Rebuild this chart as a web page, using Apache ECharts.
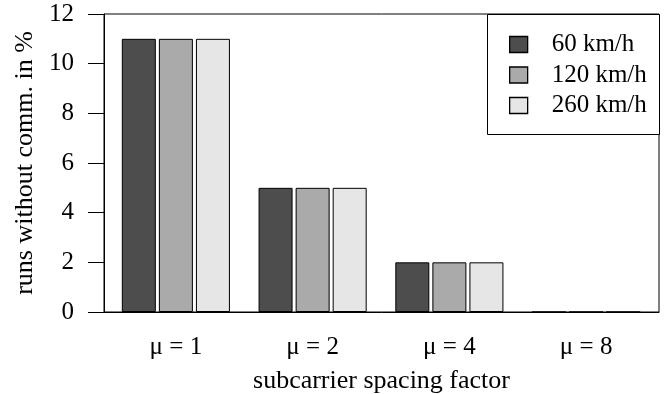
<!DOCTYPE html>
<html><head><meta charset="utf-8">
<script src="https://cdn.jsdelivr.net/npm/echarts@6/dist/echarts.min.js"></script>
<style>html,body{margin:0;padding:0;background:#fff}#c{width:664px;height:394px}</style>
</head><body><div id="c"></div>
<script>
var categories = ['μ = 1', 'μ = 2', 'μ = 4', 'μ = 8'];
var seriesNames = ['60 km/h', '120 km/h', '260 km/h'];
var v60 = [11, 5, 2, 0];
var v120 = [11, 5, 2, 0];
var v260 = [11, 5, 2, 0];
var yTicks = [0, 2, 4, 6, 8, 10, 12];
var colors = ['#4d4d4d', '#aaaaaa', '#e6e6e6'];
var FONT = 'Liberation Serif';
var FS = 25, FT = 26;
var chart = echarts.init(document.getElementById('c'));
var data = [v60, v120, v260];
var yMin = yTicks[0], yMax = yTicks[yTicks.length - 1];
chart.setOption({
  animation: false,
  textStyle: {fontFamily: FONT, color: '#000'},
  grid: [
    {left: 104, right: 5, top: 14, bottom: 82, show: true, borderColor: '#000', borderWidth: 1, outerBoundsMode: 'none', containLabel: false},
    {left: 107.5, right: 9.5, top: 14, bottom: 82, outerBoundsMode: 'none', containLabel: false}
  ],
  legend: {
    orient: 'vertical', left: 509, top: 32, padding: 0, itemWidth: 18, itemHeight: 16, itemGap: 5.5,
    icon: 'rect', textStyle: {fontFamily: FONT, fontSize: FS, color: '#000', padding: [0, 0, 0, 19]},
    itemStyle: {borderColor: '#000', borderWidth: 1.3},
    data: seriesNames
  },
  graphic: [{type: 'rect', left: 487, top: 14, shape: {width: 172, height: 120}, style: {fill: '#fff', stroke: '#000', lineWidth: 1}, z: 0}],
  xAxis: [{
    gridIndex: 0, type: 'category', data: categories,
    name: 'subcarrier spacing factor', nameLocation: 'middle', nameGap: 56,
    nameTextStyle: {fontFamily: FONT, fontSize: FT, color: '#000'},
    axisLine: {lineStyle: {color: '#000', width: 1}},
    axisTick: {show: false},
    axisLabel: {show: false}
  }, {
    gridIndex: 1, type: 'category', data: categories,
    axisLine: {show: false},
    axisTick: {show: false},
    axisLabel: {fontFamily: FONT, fontSize: FS, color: '#000', margin: 23}
  }],
  yAxis: [{
    gridIndex: 0, type: 'value', min: yMin, max: yMax, interval: 2,
    name: 'runs without comm. in %', nameLocation: 'middle', nameGap: 61,
    nameTextStyle: {fontFamily: FONT, fontSize: FT, color: '#000'},
    axisLine: {show: true, lineStyle: {color: '#000', width: 1}},
    axisTick: {show: true, length: 16, lineStyle: {color: '#000'}},
    splitLine: {show: false},
    axisLabel: {fontFamily: FONT, fontSize: FS, color: '#000', margin: 30}
  }, {
    gridIndex: 1, type: 'value', min: yMin, max: yMax, interval: 2, show: false,
    splitLine: {show: false}
  }],
  series: data.map(function (d, i) {
    return {
      type: 'bar', name: seriesNames[i], data: d, xAxisIndex: 1, yAxisIndex: 1,
      barWidth: 34, barGap: '9%',
      itemStyle: {color: colors[i], borderColor: '#000', borderWidth: 1}
    };
  })
});
</script></body></html>
